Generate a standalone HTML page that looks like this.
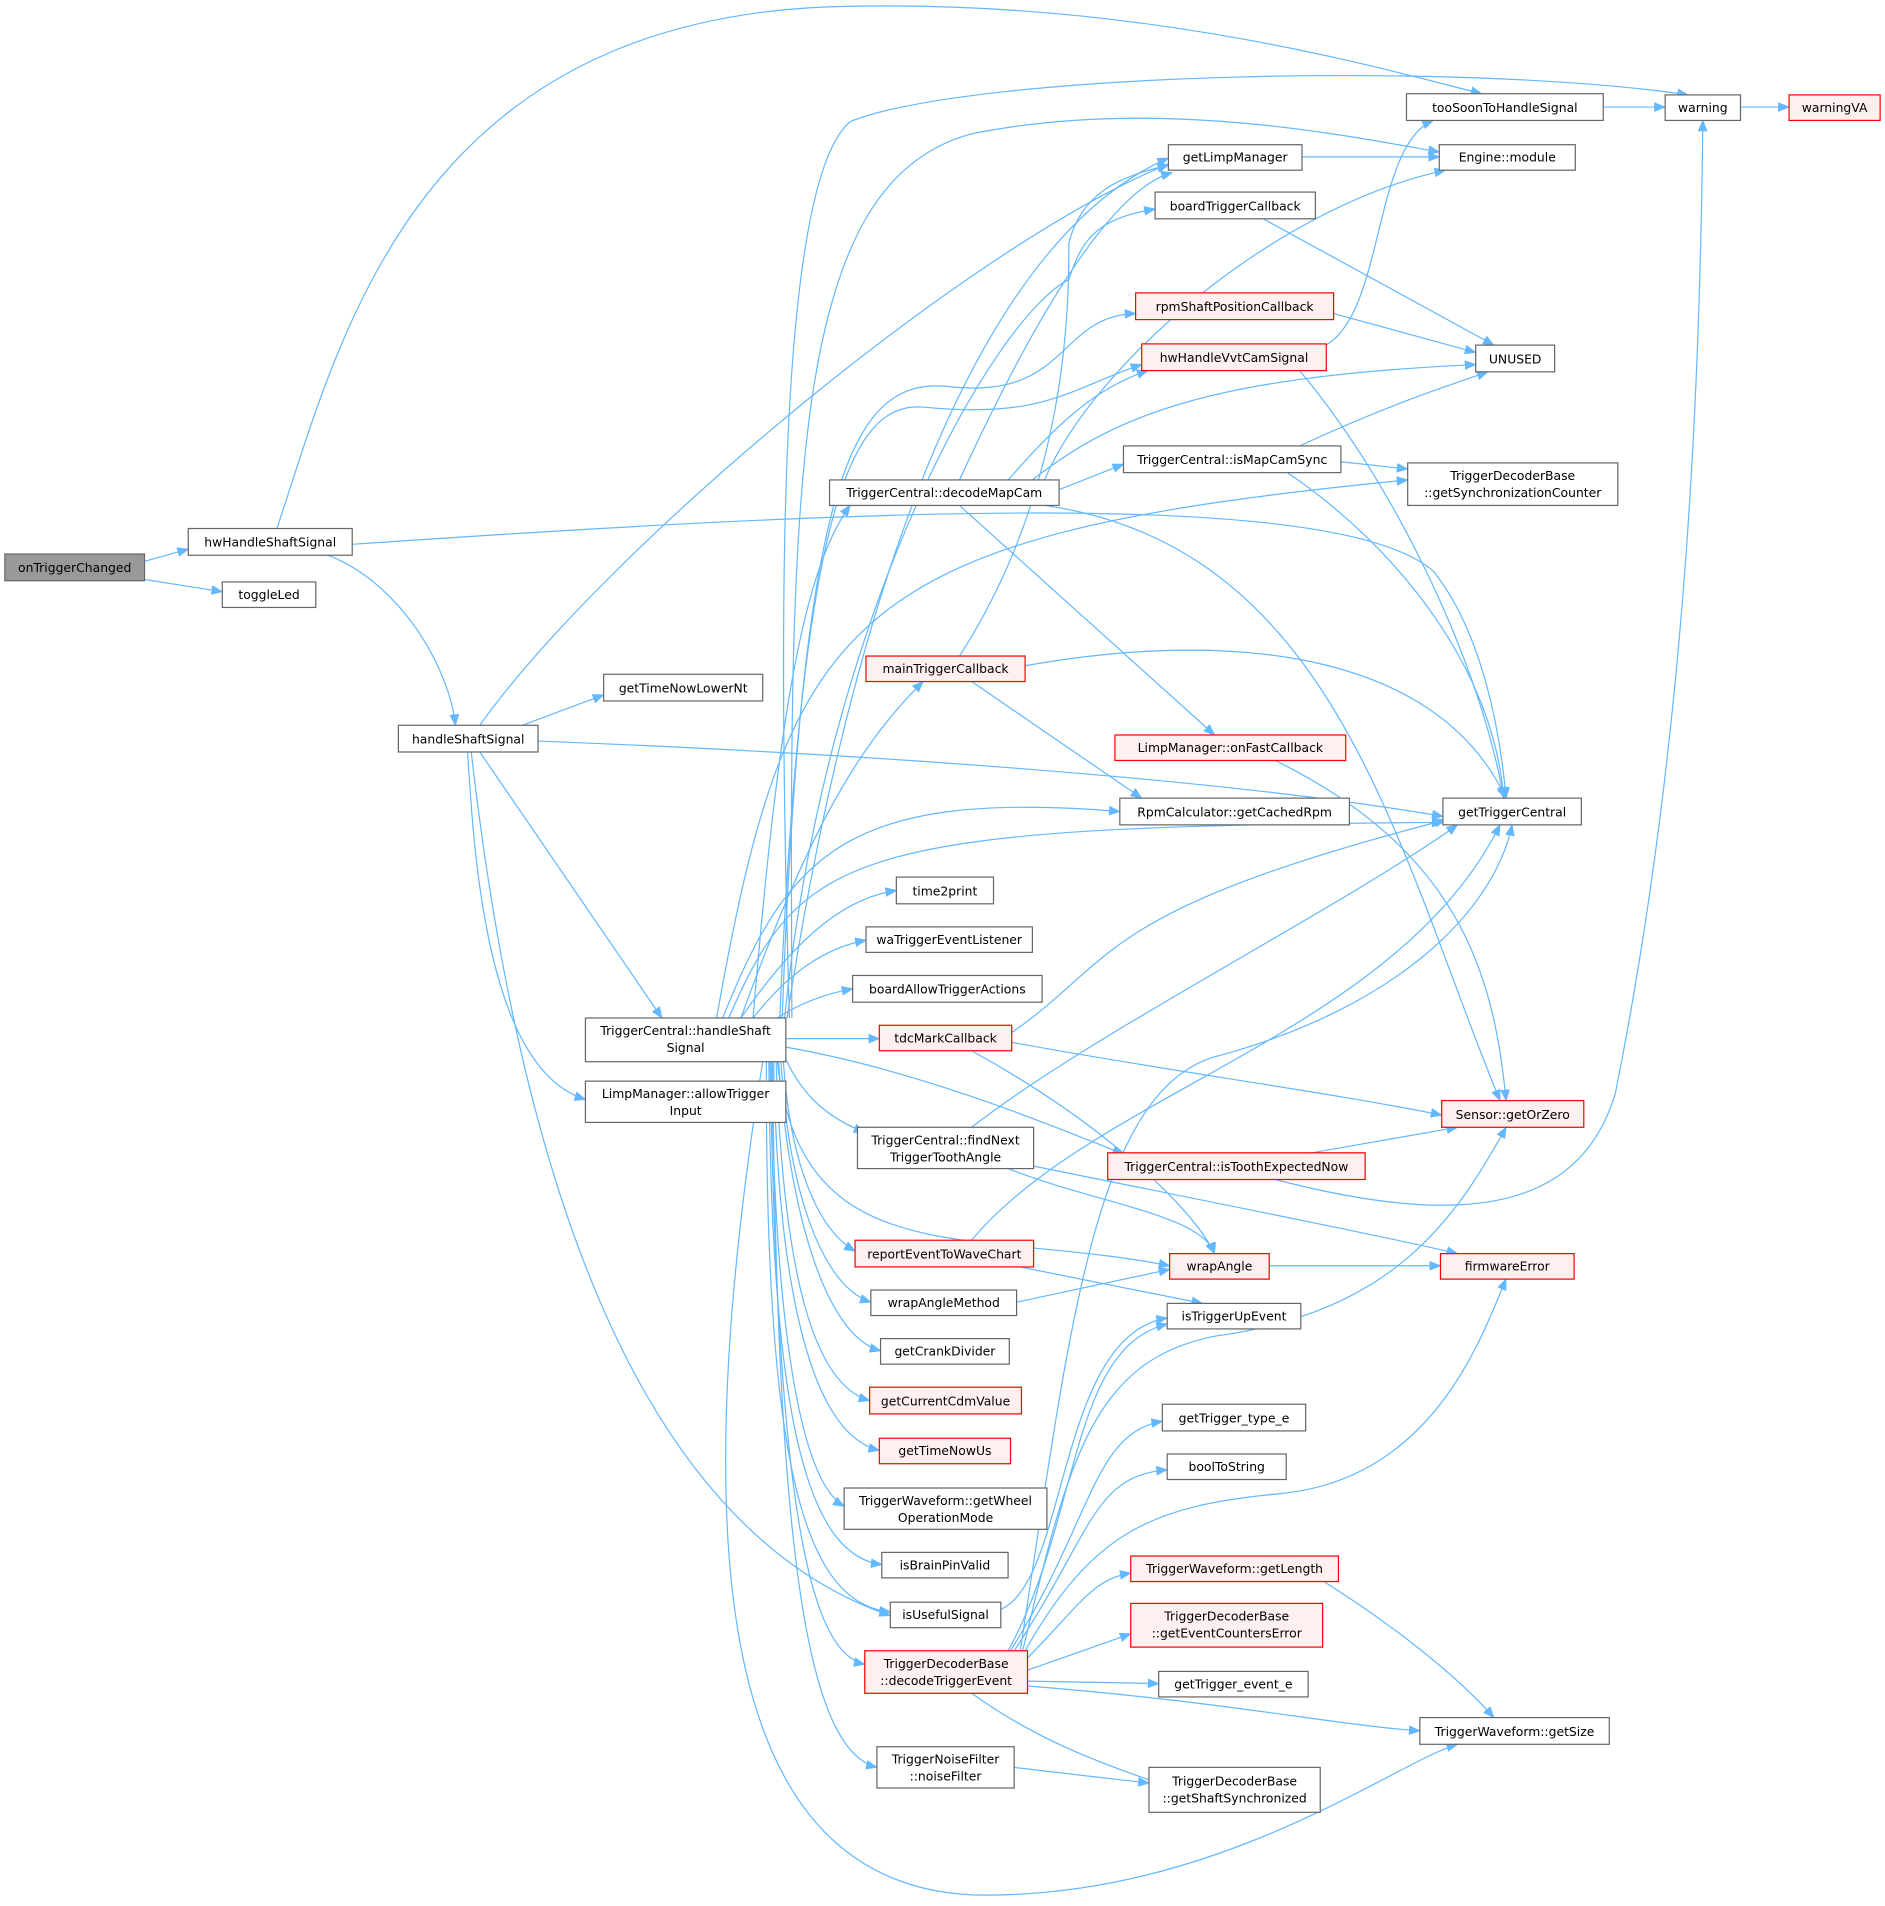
<!DOCTYPE html>
<html><head><meta charset="utf-8"><style>
html,body{margin:0;padding:0;background:#fff;}
svg{display:block;}
text{font-family:"DejaVu Sans","Liberation Sans",sans-serif;font-size:10.2px;fill:#000;}
.n{fill:#fff;stroke:#666;stroke-width:1;}
.r{fill:#fff0f0;stroke:#f00;stroke-width:1;}
.g{fill:#999;stroke:#666;stroke-width:1;}
.e{fill:none;stroke:#63b8ff;stroke-width:1;marker-end:url(#a);}
</style></head><body>
<svg width="1885" height="1906" viewBox="0 0 1552 1569" xmlns="http://www.w3.org/2000/svg">
<defs><marker id="a" markerWidth="10" markerHeight="8" refX="9" refY="4" orient="auto" markerUnits="userSpaceOnUse"><path d="M0,0 L10,4 L0,8 z" fill="#63b8ff"/></marker></defs>
<g>
<path class="e" d="M119,462 L155,452"/>
<path class="e" d="M119,477 L183,487"/>
<path class="e" d="M228,435 C280,280 340,10 700,5 C950,0 1150,60 1220,77"/>
<path class="e" d="M290,448 C700,420 1100,400 1180,470 C1220,520 1235,600 1240,657"/>
<path class="e" d="M270,457 C330,480 370,550 375,597"/>
<path class="e" d="M395,597 C500,450 800,200 962,135"/>
<path class="e" d="M430,597 L497,572"/>
<path class="e" d="M443,610 C700,620 1000,640 1188,672"/>
<path class="e" d="M395,619 L545,838"/>
<path class="e" d="M385,619 C390,700 400,880 482,905"/>
<path class="e" d="M388,619 C420,900 500,1250 733,1330"/>
<path class="e" d="M650,838 C640,500 640,150 700,100 C800,60 1200,50 1390,78"/>
<path class="e" d="M652,838 C650,400 650,150 800,110 C950,80 1100,110 1185,125"/>
<path class="e" d="M648,838 C700,500 800,200 962,130"/>
<path class="e" d="M646,838 C680,500 820,260 880,230 C890,200 900,180 951,172"/>
<path class="e" d="M644,838 C660,400 700,310 780,318 C880,330 870,260 935,258"/>
<path class="e" d="M642,838 C660,420 700,330 760,335 C860,345 880,320 940,300"/>
<path class="e" d="M620,838 C640,600 660,470 700,416"/>
<path class="e" d="M590,838 C650,500 700,440 1159,395"/>
<path class="e" d="M610,838 C660,700 700,620 760,561"/>
<path class="e" d="M595,838 C650,700 700,650 922,668"/>
<path class="e" d="M600,838 C660,700 700,680 1188,677"/>
<path class="e" d="M610,838 C650,780 690,740 738,733"/>
<path class="e" d="M620,838 C650,800 680,780 713,774"/>
<path class="e" d="M640,838 C660,825 680,818 702,814"/>
<path class="e" d="M647,855 L724,855"/>
<path class="e" d="M647,872 C660,900 680,920 712,932"/>
<path class="e" d="M647,862 C750,880 850,920 925,950"/>
<path class="e" d="M645,874 C650,950 670,1010 704,1030"/>
<path class="e" d="M640,874 C660,1050 800,1010 963,1042"/>
<path class="e" d="M643,874 C650,990 680,1060 717,1072"/>
<path class="e" d="M641,874 C650,1000 680,1100 725,1112"/>
<path class="e" d="M639,874 C645,1050 670,1140 716,1153"/>
<path class="e" d="M637,874 C640,1050 665,1180 724,1194"/>
<path class="e" d="M635,874 C638,1100 660,1220 695,1240"/>
<path class="e" d="M633,874 C635,1150 660,1280 726,1288"/>
<path class="e" d="M631,874 C630,1200 660,1320 733,1327"/>
<path class="e" d="M634,874 C640,1200 660,1360 712,1370"/>
<path class="e" d="M636,874 C640,1250 660,1440 722,1455"/>
<path class="e" d="M628,874 C560,1300 600,1550 800,1560 C1000,1565 1150,1450 1200,1436"/>
<path class="e" d="M790,395 C820,330 900,160 965,142"/>
<path class="e" d="M860,395 C900,300 1050,170 1190,140"/>
<path class="e" d="M850,395 C920,340 1000,310 1215,300"/>
<path class="e" d="M830,395 C870,350 900,320 945,305"/>
<path class="e" d="M872,403 L925,382"/>
<path class="e" d="M860,416 C1100,450 1150,700 1235,906"/>
<path class="e" d="M790,416 L1000,605"/>
<path class="e" d="M790,540 C880,400 880,250 880,200 C890,160 920,145 962,136"/>
<path class="e" d="M844,548 C1000,520 1180,530 1240,657"/>
<path class="e" d="M800,561 L940,657"/>
<path class="e" d="M1320,88 L1371,88"/>
<path class="e" d="M1433,88 L1473,88"/>
<path class="e" d="M1072,129 L1185,129"/>
<path class="e" d="M1040,180 L1230,284"/>
<path class="e" d="M1098,258 L1215,290"/>
<path class="e" d="M1090,285 C1140,260 1130,120 1180,99"/>
<path class="e" d="M1070,305 C1150,400 1220,550 1238,657"/>
<path class="e" d="M1070,367 C1150,330 1200,315 1225,306"/>
<path class="e" d="M1104,380 L1159,386"/>
<path class="e" d="M1060,389 C1150,450 1230,550 1238,657"/>
<path class="e" d="M1050,626 C1200,700 1230,800 1240,906"/>
<path class="e" d="M833,850 C920,790 900,750 1190,675"/>
<path class="e" d="M833,858 C950,880 1100,900 1187,918"/>
<path class="e" d="M800,865 C900,920 980,990 1000,1032"/>
<path class="e" d="M800,928 C900,850 1100,750 1200,679"/>
<path class="e" d="M830,962 C900,990 990,1000 1000,1032"/>
<path class="e" d="M851,960 C1000,990 1150,1020 1200,1032"/>
<path class="e" d="M1080,949 L1200,928"/>
<path class="e" d="M1050,971 C1200,1010 1300,1000 1330,900 C1390,600 1400,300 1402,99"/>
<path class="e" d="M800,1021 C900,900 1150,850 1235,679"/>
<path class="e" d="M840,1043 L990,1073"/>
<path class="e" d="M837,1072 L963,1045"/>
<path class="e" d="M1045,1042 L1186,1042"/>
<path class="e" d="M824,1325 C880,1300 870,1100 961,1085"/>
<path class="e" d="M1090,1302 C1150,1340 1200,1380 1230,1414"/>
<path class="e" d="M840,1359 C880,1100 900,900 1000,870 C1150,830 1230,750 1245,679"/>
<path class="e" d="M842,1359 C880,1200 900,1120 1000,1100 C1150,1080 1200,1000 1240,928"/>
<path class="e" d="M830,1359 C890,1250 880,1110 961,1090"/>
<path class="e" d="M832,1359 C900,1250 900,1180 957,1170"/>
<path class="e" d="M835,1359 C900,1260 900,1215 961,1210"/>
<path class="e" d="M844,1359 C900,1260 950,1240 1050,1230 C1180,1220 1220,1100 1240,1053"/>
<path class="e" d="M846,1365 C890,1320 900,1300 931,1295"/>
<path class="e" d="M846,1375 L931,1345"/>
<path class="e" d="M846,1384 L954,1386"/>
<path class="e" d="M846,1388 C1000,1400 1100,1420 1169,1425"/>
<path class="e" d="M800,1394 C850,1430 900,1450 960,1470"/>
<path class="e" d="M835,1455 L946,1468"/>
</g>
<g text-anchor="middle">
<rect class="g" x="4" y="456" width="115" height="22"/><text x="61.5" y="471">onTriggerChanged</text>
<rect class="n" x="155" y="435" width="135" height="22"/><text x="222.5" y="450">hwHandleShaftSignal</text>
<rect class="n" x="183" y="479" width="77" height="21"/><text x="221.5" y="493">toggleLed</text>
<rect class="n" x="328" y="597" width="115" height="22"/><text x="385.5" y="612">handleShaftSignal</text>
<rect class="n" x="497" y="555" width="131" height="22"/><text x="562.5" y="570">getTimeNowLowerNt</text>
<rect class="n" x="482" y="838" width="165" height="36"/><text x="564.5" y="852">TriggerCentral::handleShaft</text><text x="564.5" y="866">Signal</text>
<rect class="n" x="482" y="890" width="165" height="34"/><text x="564.5" y="904">LimpManager::allowTrigger</text><text x="564.5" y="918">Input</text>
<rect class="n" x="1158" y="77" width="162" height="22"/><text x="1239" y="92">tooSoonToHandleSignal</text>
<rect class="n" x="1371" y="78" width="62" height="21"/><text x="1402" y="92">warning</text>
<rect class="r" x="1473" y="78" width="75" height="21"/><text x="1510.5" y="92">warningVA</text>
<rect class="n" x="962" y="119" width="110" height="21"/><text x="1017" y="133">getLimpManager</text>
<rect class="n" x="1185" y="119" width="112" height="21"/><text x="1241" y="133">Engine::module</text>
<rect class="n" x="951" y="158" width="132" height="22"/><text x="1017" y="173">boardTriggerCallback</text>
<rect class="r" x="935" y="241" width="163" height="22"/><text x="1016.5" y="256">rpmShaftPositionCallback</text>
<rect class="n" x="1215" y="284" width="65" height="22"/><text x="1247.5" y="299">UNUSED</text>
<rect class="r" x="940" y="283" width="152" height="22"/><text x="1016" y="298">hwHandleVvtCamSignal</text>
<rect class="n" x="683" y="395" width="189" height="21"/><text x="777.5" y="409">TriggerCentral::decodeMapCam</text>
<rect class="n" x="925" y="367" width="179" height="22"/><text x="1014.5" y="382">TriggerCentral::isMapCamSync</text>
<rect class="n" x="1159" y="381" width="173" height="35"/><text x="1245.5" y="395">TriggerDecoderBase</text><text x="1245.5" y="409">::getSynchronizationCounter</text>
<rect class="r" x="713" y="540" width="131" height="21"/><text x="778.5" y="554">mainTriggerCallback</text>
<rect class="r" x="918" y="605" width="190" height="21"/><text x="1013" y="619">LimpManager::onFastCallback</text>
<rect class="n" x="922" y="657" width="189" height="22"/><text x="1016.5" y="672">RpmCalculator::getCachedRpm</text>
<rect class="n" x="1188" y="657" width="114" height="22"/><text x="1245" y="672">getTriggerCentral</text>
<rect class="n" x="738" y="722" width="80" height="22"/><text x="778" y="737">time2print</text>
<rect class="n" x="713" y="763" width="137" height="21"/><text x="781.5" y="777">waTriggerEventListener</text>
<rect class="n" x="702" y="803" width="156" height="22"/><text x="780" y="818">boardAllowTriggerActions</text>
<rect class="r" x="724" y="844" width="109" height="21"/><text x="778.5" y="858">tdcMarkCallback</text>
<rect class="n" x="706" y="928" width="145" height="34"/><text x="778.5" y="942">TriggerCentral::findNext</text><text x="778.5" y="956">TriggerToothAngle</text>
<rect class="r" x="912" y="949" width="212" height="22"/><text x="1018" y="964">TriggerCentral::isToothExpectedNow</text>
<rect class="r" x="1187" y="906" width="117" height="22"/><text x="1245.5" y="921">Sensor::getOrZero</text>
<rect class="r" x="704" y="1021" width="147" height="22"/><text x="777.5" y="1036">reportEventToWaveChart</text>
<rect class="r" x="963" y="1032" width="82" height="21"/><text x="1004" y="1046">wrapAngle</text>
<rect class="r" x="1186" y="1032" width="110" height="21"/><text x="1241" y="1046">firmwareError</text>
<rect class="n" x="717" y="1062" width="120" height="21"/><text x="777" y="1076">wrapAngleMethod</text>
<rect class="n" x="961" y="1073" width="110" height="21"/><text x="1016" y="1087">isTriggerUpEvent</text>
<rect class="n" x="725" y="1102" width="106" height="21"/><text x="778" y="1116">getCrankDivider</text>
<rect class="r" x="716" y="1142" width="125" height="22"/><text x="778.5" y="1157">getCurrentCdmValue</text>
<rect class="n" x="957" y="1156" width="118" height="22"/><text x="1016" y="1171">getTrigger_type_e</text>
<rect class="r" x="724" y="1184" width="108" height="21"/><text x="778" y="1198">getTimeNowUs</text>
<rect class="n" x="961" y="1197" width="98" height="21"/><text x="1010" y="1211">boolToString</text>
<rect class="n" x="695" y="1225" width="167" height="34"/><text x="778.5" y="1239">TriggerWaveform::getWheel</text><text x="778.5" y="1253">OperationMode</text>
<rect class="n" x="726" y="1278" width="104" height="21"/><text x="778" y="1292">isBrainPinValid</text>
<rect class="r" x="931" y="1281" width="171" height="21"/><text x="1016.5" y="1295">TriggerWaveform::getLength</text>
<rect class="n" x="733" y="1319" width="91" height="21"/><text x="778.5" y="1333">isUsefulSignal</text>
<rect class="r" x="931" y="1320" width="158" height="36"/><text x="1010" y="1334">TriggerDecoderBase</text><text x="1010" y="1348">::getEventCountersError</text>
<rect class="r" x="712" y="1359" width="134" height="35"/><text x="779" y="1373">TriggerDecoderBase</text><text x="779" y="1387">::decodeTriggerEvent</text>
<rect class="n" x="954" y="1376" width="123" height="21"/><text x="1015.5" y="1390">getTrigger_event_e</text>
<rect class="n" x="1169" y="1414" width="156" height="22"/><text x="1247" y="1429">TriggerWaveform::getSize</text>
<rect class="n" x="722" y="1438" width="113" height="34"/><text x="778.5" y="1452">TriggerNoiseFilter</text><text x="778.5" y="1466">::noiseFilter</text>
<rect class="n" x="946" y="1455" width="141" height="37"/><text x="1016.5" y="1470">TriggerDecoderBase</text><text x="1016.5" y="1484">::getShaftSynchronized</text>
</g>
</svg>
</body></html>
